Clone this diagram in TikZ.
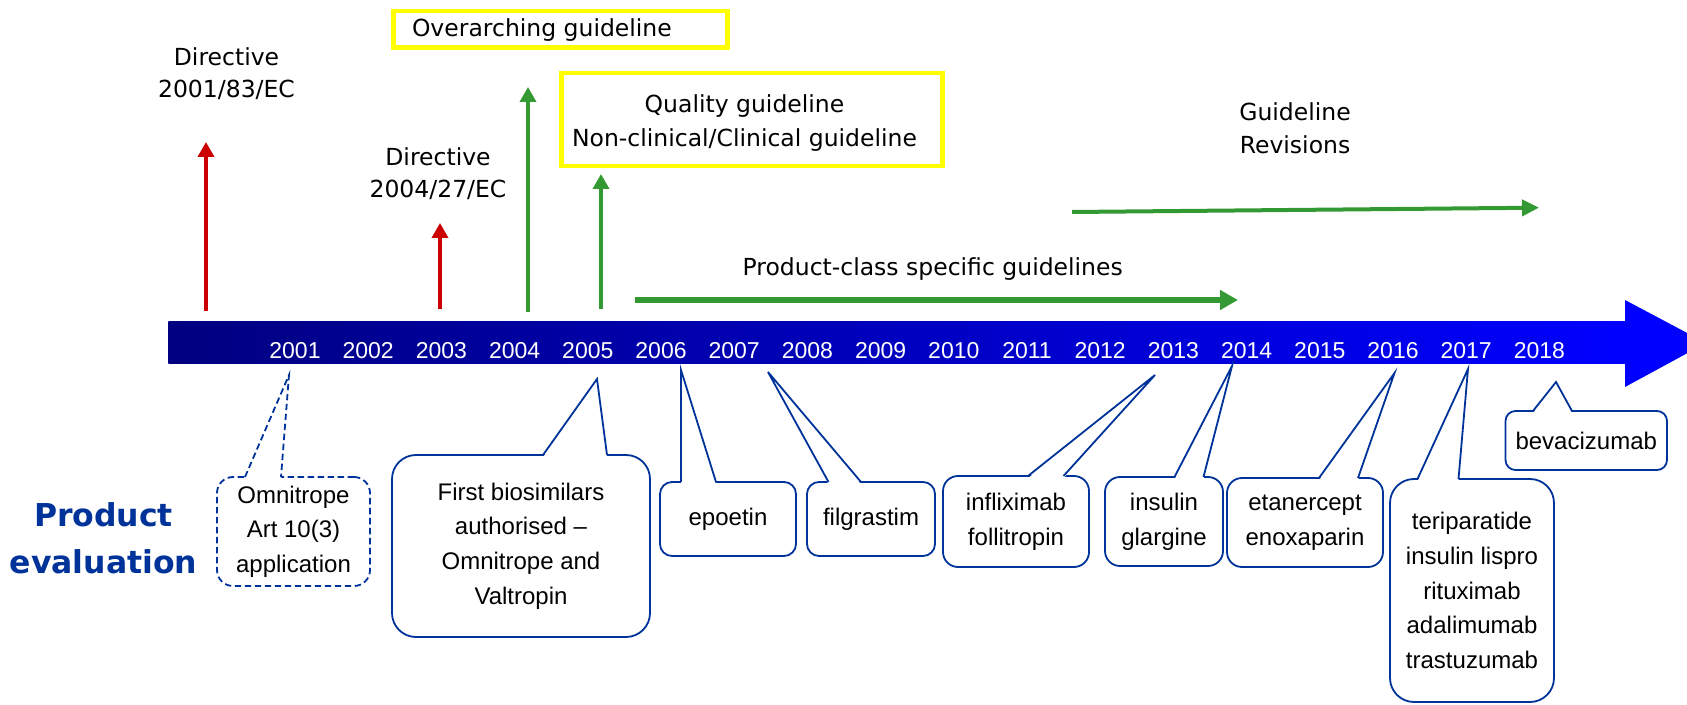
\documentclass[tikz,border=0pt]{standalone}
\usepackage{fontspec}
\usetikzlibrary{arrows.meta}
\newfontfamily\dv{DejaVu Sans}
\newfontfamily\ar{Liberation Sans}
\definecolor{navyL}{RGB}{0,0,128}
\definecolor{blueR}{RGB}{0,0,255}
\definecolor{cblue}{RGB}{0,51,153}
\definecolor{grn}{RGB}{51,153,51}
\definecolor{rd}{RGB}{204,0,0}
\definecolor{yel}{RGB}{255,255,0}
\newcommand\callptr[5][]{%
  \fill[white] (#2,{#4+2.2}) -- (#5) -- (#3,{#4+2.2}) -- cycle;
  \draw[cline,#1] (#2,#4) -- (#5) -- (#3,#4);}
\begin{document}
\begin{tikzpicture}[x=0.5pt,y=-0.5pt,
  toplab/.style={font=\dv\fontsize{11.75}{16}\selectfont, align=center, inner sep=0pt},
  toplabB/.style={font=\dv\fontsize{11.75}{16.9}\selectfont, align=center, inner sep=0pt},
  cline/.style={draw=cblue, line width=0.9pt, line join=miter},
  cbox/.style={cline, fill=white, font=\ar\fontsize{12}{17.3}\selectfont, align=center, inner sep=0pt},
  year/.style={font=\ar\fontsize{11.5}{14}\selectfont, text=white, inner sep=0pt, anchor=base},
  ybox/.style={draw=yel, line width=2.25pt, inner sep=0pt},
  varrow/.style={line width=1.75pt, -{Triangle[width=8pt,length=7.5pt]}},
]
\useasboundingbox (0,0) rectangle (1687,705);
\clip (0,0) rectangle (1687,705);

% timeline bar
\shade[left color=navyL, right color=blueR] (168.3,321.7) rectangle (1625.5,364);
\fill[blueR] (1625,300) -- (1706,343) -- (1625,387) -- cycle;

% years
\foreach \i in {0,...,17}{%
  \pgfmathtruncatemacro\yr{2001+\i}%
  \node[year] (y\yr) at ({295+73.2*\i},359) {\yr};}

% top labels
\node[toplab] (dirA) at (226.5,73.5) {Directive\\2001/83/EC};
\node[toplab] (dirB) at (438,173.6) {Directive\\2004/27/EC};

\node[ybox, minimum width=166.85pt, minimum height=18.25pt] (obox) at (560.5,29.5) {};
\node[toplab, anchor=base west] (otxt) at (411.6,36.7) {Overarching guideline};

\node[ybox, minimum width=190.5pt, minimum height=46.45pt] (qbox) at (751.75,119.35) {};
\node[toplabB] (qtxt) at (744.5,122.8) {Quality guideline\\Non-clinical/Clinical guideline};

\node[toplabB] (rev) at (1295,128.2) {Guideline\\Revisions};
\node[toplab, anchor=base] (pcs) at (932.7,276) {Product-class specific guidelines};

% arrows
\coordinate (rA0) at (206,311);  \coordinate (rA1) at (206,142);
\coordinate (rB0) at (440,309);  \coordinate (rB1) at (440,223);
\coordinate (gA0) at (528,312);  \coordinate (gA1) at (528,87);
\coordinate (gB0) at (601,309);  \coordinate (gB1) at (601,174);
\coordinate (pc0) at (635,300);  \coordinate (pc1) at (1238,300);
\coordinate (rv0) at (1072,212); \coordinate (rv1) at (1539,207.7);
\draw[varrow, rd] (rA0) -- (rA1);
\draw[varrow, rd] (rB0) -- (rB1);
\draw[varrow, grn] (gA0) -- (gA1);
\draw[varrow, grn] (gB0) -- (gB1);
\draw[grn, line width=3.3pt, -{Triangle[width=9.5pt,length=9pt]}] (pc0) -- (pc1);
\draw[grn, line width=2pt, -{Triangle[width=8pt,length=8.5pt]}] (rv0) -- (rv1);

% product evaluation
\node[font=\dv\bfseries\fontsize{15.75}{23.3}\selectfont, text=cblue, align=center, inner sep=0pt] (pe) at (103.5,538) {Product\\evaluation};

% callout tips
\coordinate (tom) at (289,375);
\coordinate (tfb) at (597,379);
\coordinate (tep) at (681,370);
\coordinate (tfg) at (768,372);
\coordinate (tin) at (1155,375);
\coordinate (tig) at (1232,366);
\coordinate (tet) at (1394.5,373);
\coordinate (tte) at (1468,369);
\coordinate (tbv) at (1556,382);

% callout boxes
\node[cbox, dash pattern=on 3.2pt off 1.8pt, minimum width=76.5pt, minimum height=54.5pt, rounded corners=8pt] (om) at (293.5,531.5) {Omnitrope\\Art 10(3)\\application};
\callptr[dash pattern=on 3.2pt off 1.8pt]{245}{281}{477}{tom}

\node[cbox, minimum width=129pt, minimum height=91pt, rounded corners=12pt] (fb) at (521,546) {First biosimilars\\authorised –\\Omnitrope and\\Valtropin};
\callptr{543}{607}{455}{tfb}

\node[cbox, minimum width=68pt, minimum height=37pt, rounded corners=6pt] (ep) at (728,519) {epoetin};
\callptr{681}{716}{482}{tep}

\node[cbox, minimum width=64pt, minimum height=37pt, rounded corners=6pt] (fg) at (871,519) {filgrastim};
\callptr{828.5}{861}{482}{tfg}

\node[cbox, minimum width=73pt, minimum height=45.5pt, rounded corners=7.5pt] (inf) at (1016,521.5) {infliximab\\follitropin};
\callptr{1028}{1063.5}{476}{tin}

\node[cbox, minimum width=59pt, minimum height=44.5pt, rounded corners=7.5pt] (ig) at (1164,521.5) {insulin\\glargine};
\callptr{1174.5}{1203.5}{477}{tig}

\node[cbox, minimum width=78pt, minimum height=44.5pt, rounded corners=7.5pt] (et) at (1305,522.5) {etanercept\\enoxaparin};
\callptr{1319}{1358}{478}{tet}

\node[cbox, minimum width=82pt, minimum height=111.5pt, rounded corners=12pt] (te) at (1472,590.5) {teriparatide\\insulin lispro\\rituximab\\adalimumab\\trastuzumab};
\callptr{1417.5}{1458.5}{479}{tte}

\node[cbox, minimum width=80.75pt, minimum height=29.5pt, rounded corners=5pt] (bv) at (1586.25,440.5) {bevacizumab};
\callptr{1533}{1572}{411}{tbv}
\end{tikzpicture}
\end{document}
